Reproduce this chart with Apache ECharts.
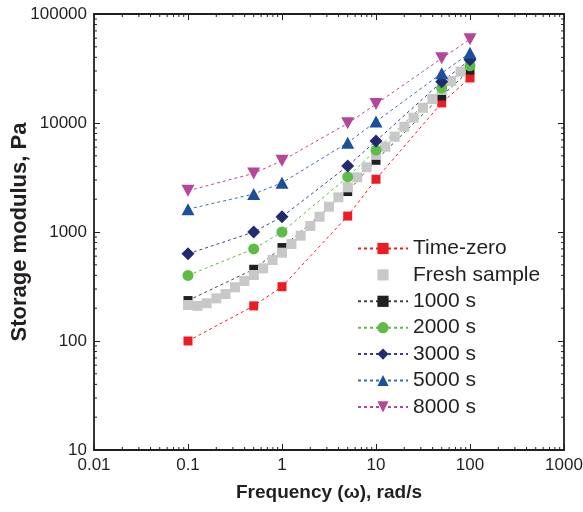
<!DOCTYPE html>
<html><head><meta charset="utf-8">
<script src="https://cdn.jsdelivr.net/npm/echarts@6/dist/echarts.min.js"></script>
<style>html,body{margin:0;padding:0;background:#fff}#c{width:583px;height:512px}</style>
</head><body><div id="c"></div>
<script>
// ---- data ----
const freq = [0.1, 0.5, 1, 5, 10, 50, 100];
const timeZero = [100, 210, 315, 1400, 3050, 15300, 25900];
const s1000 = [235, 455, 720, 2350, 4550, 17700, 30600];
const s2000 = [400, 700, 1000, 3200, 5650, 21000, 33500];
const s3000 = [630, 1000, 1380, 4030, 6840, 23900, 38000];
const s5000 = [1620, 2230, 2830, 6600, 10300, 28600, 44000];
const s8000 = [2390, 3450, 4510, 9930, 14900, 39200, 58600];
const freshFreq = [0.1, 0.126, 0.158, 0.2, 0.251, 0.316, 0.398, 0.501, 0.631, 0.794,
  1, 1.26, 1.58, 2, 2.51, 3.16, 3.98, 5.01, 6.31, 7.94,
  10, 12.6, 15.8, 20, 25.1, 31.6, 39.8, 50.1, 63.1, 79.4, 100];
const freshG = [214, 210, 222, 246, 270, 311, 355, 403, 464, 553,
  646, 776, 925, 1135, 1380, 1706, 2080, 2570, 3175, 3925,
  5100, 6060, 7490, 9250, 11190, 13800, 16600, 20100, 24300, 29600, 35300];
const legendNames = ['Time-zero', 'Fresh sample', '1000 s', '2000 s', '3000 s', '5000 s', '8000 s'];
const xMajor = [0.01, 0.1, 1, 10, 100];
const yMajor = [10, 100, 1000, 10000];
const minorSteps = [2, 3, 4, 5, 6, 7, 8, 9];

const xMinor = [], yMinor = [];
xMajor.forEach(d => minorSteps.forEach(m => xMinor.push([+(d * m).toPrecision(4), 10])));
yMajor.forEach(d => minorSteps.forEach(m => yMinor.push([0.01, +(d * m).toPrecision(4)])));

const pair = (xs, ys) => xs.map((x, i) => [x, ys[i]]);
const FONT = '"Liberation Sans", Arial, Helvetica, sans-serif';
const INK = '#231F20';

function lineSeries(name, ys, color, lineColor, symbol, size, extra) {
  return Object.assign({
    name, type: 'line', data: pair(freq, ys), symbol, symbolSize: size,
    itemStyle: { color, borderWidth: 0 },
    lineStyle: { color: lineColor, width: 1, type: [3, 3] },
    emphasis: { disabled: true }, animation: false
  }, extra || {});
}

const axisCommon = {
  type: 'log', logBase: 10,
  axisLine: { show: true, onZero: false, lineStyle: { color: INK, width: 1.8 } },
  axisTick: { show: true, inside: true, length: 6, lineStyle: { color: INK, width: 1 } },
  splitLine: { show: false },
  minorTick: { show: false }
};

const option = {
  animation: false,
  grid: { left: 94, right: 19, top: 14, bottom: 62, containLabel: false, outerBoundsMode: 'none' },
  legend: {
    data: legendNames, orient: 'vertical', left: 352, top: 233,
    itemWidth: 50, itemHeight: 14, itemGap: 5.4,
    textStyle: { fontFamily: FONT, fontSize: 21, color: INK },
    selectedMode: false
  },
  xAxis: [
    Object.assign({}, axisCommon, {
      min: 0.01, max: 1000, position: 'bottom',
      axisLabel: { show: true, fontFamily: FONT, fontSize: 17, color: INK, margin: 7,
        formatter: v => String(+(+v).toPrecision(6)) },
      name: 'Frequency (\u03c9), rad/s', nameLocation: 'middle', nameGap: 33, nameMoveOverlap: false,
      nameTextStyle: { fontFamily: FONT, fontSize: 19, fontWeight: 'bold', color: INK }
    }),
    Object.assign({}, axisCommon, {
      min: 0.01, max: 1000, position: 'top', axisLabel: { show: false }
    })
  ],
  yAxis: [
    Object.assign({}, axisCommon, {
      min: 10, max: 100000, position: 'left',
      axisLabel: { show: true, fontFamily: FONT, fontSize: 17, color: INK, margin: 7,
        formatter: v => String(+(+v).toPrecision(6)) },
      name: 'Storage modulus, Pa', nameLocation: 'middle', nameGap: 63, nameMoveOverlap: false,
      nameTextStyle: { fontFamily: FONT, fontSize: 22, fontWeight: 'bold', color: INK }
    }),
    Object.assign({}, axisCommon, {
      min: 10, max: 100000, position: 'right', axisLabel: { show: false }
    })
  ],
  series: [
    lineSeries('Time-zero', timeZero, '#EC1C24', '#EC1C24', 'rect', 9),
    lineSeries('1000 s', s1000, INK, '#444444', 'rect', 9),
    {
      name: 'Fresh sample', type: 'line', data: pair(freshFreq, freshG),
      symbol: 'rect', symbolSize: 10,
      itemStyle: { color: '#C8C8C8' },
      lineStyle: { color: 'rgba(0,0,0,0)', width: 0 },
      emphasis: { disabled: true }, animation: false
    },
    lineSeries('2000 s', s2000, '#5DBB46', '#5DBB46', 'circle', 11),
    lineSeries('3000 s', s3000, '#232A6E', '#3A4088', 'diamond', 13),
    lineSeries('5000 s', s5000, '#1D4F9A', '#3C69B2', 'triangle', [13, 12]),
    lineSeries('8000 s', s8000, '#B4479A', '#B4479A', 'triangle', [13, 12], { symbolRotate: 180 }),
    {
      type: 'custom', silent: true, data: xMinor, z: 1,
      renderItem: (params, api) => {
        const v = api.value(0);
        const b = api.coord([v, 10]), t = api.coord([v, 100000]);
        const st = { stroke: INK, lineWidth: 1 };
        return { type: 'group', children: [
          { type: 'line', shape: { x1: b[0], y1: b[1], x2: b[0], y2: b[1] - 3 }, style: st },
          { type: 'line', shape: { x1: t[0], y1: t[1], x2: t[0], y2: t[1] + 3 }, style: st }
        ]};
      }
    },
    {
      type: 'custom', silent: true, data: yMinor, z: 1,
      renderItem: (params, api) => {
        const v = api.value(1);
        const l = api.coord([0.01, v]), r = api.coord([1000, v]);
        const st = { stroke: INK, lineWidth: 1 };
        return { type: 'group', children: [
          { type: 'line', shape: { x1: l[0], y1: l[1], x2: l[0] + 3, y2: l[1] }, style: st },
          { type: 'line', shape: { x1: r[0], y1: r[1], x2: r[0] - 3, y2: r[1] }, style: st }
        ]};
      }
    }
  ]
};

const chart = echarts.init(document.getElementById('c'), null, { renderer: 'canvas' });
chart.setOption(option);
</script>
</body></html>
